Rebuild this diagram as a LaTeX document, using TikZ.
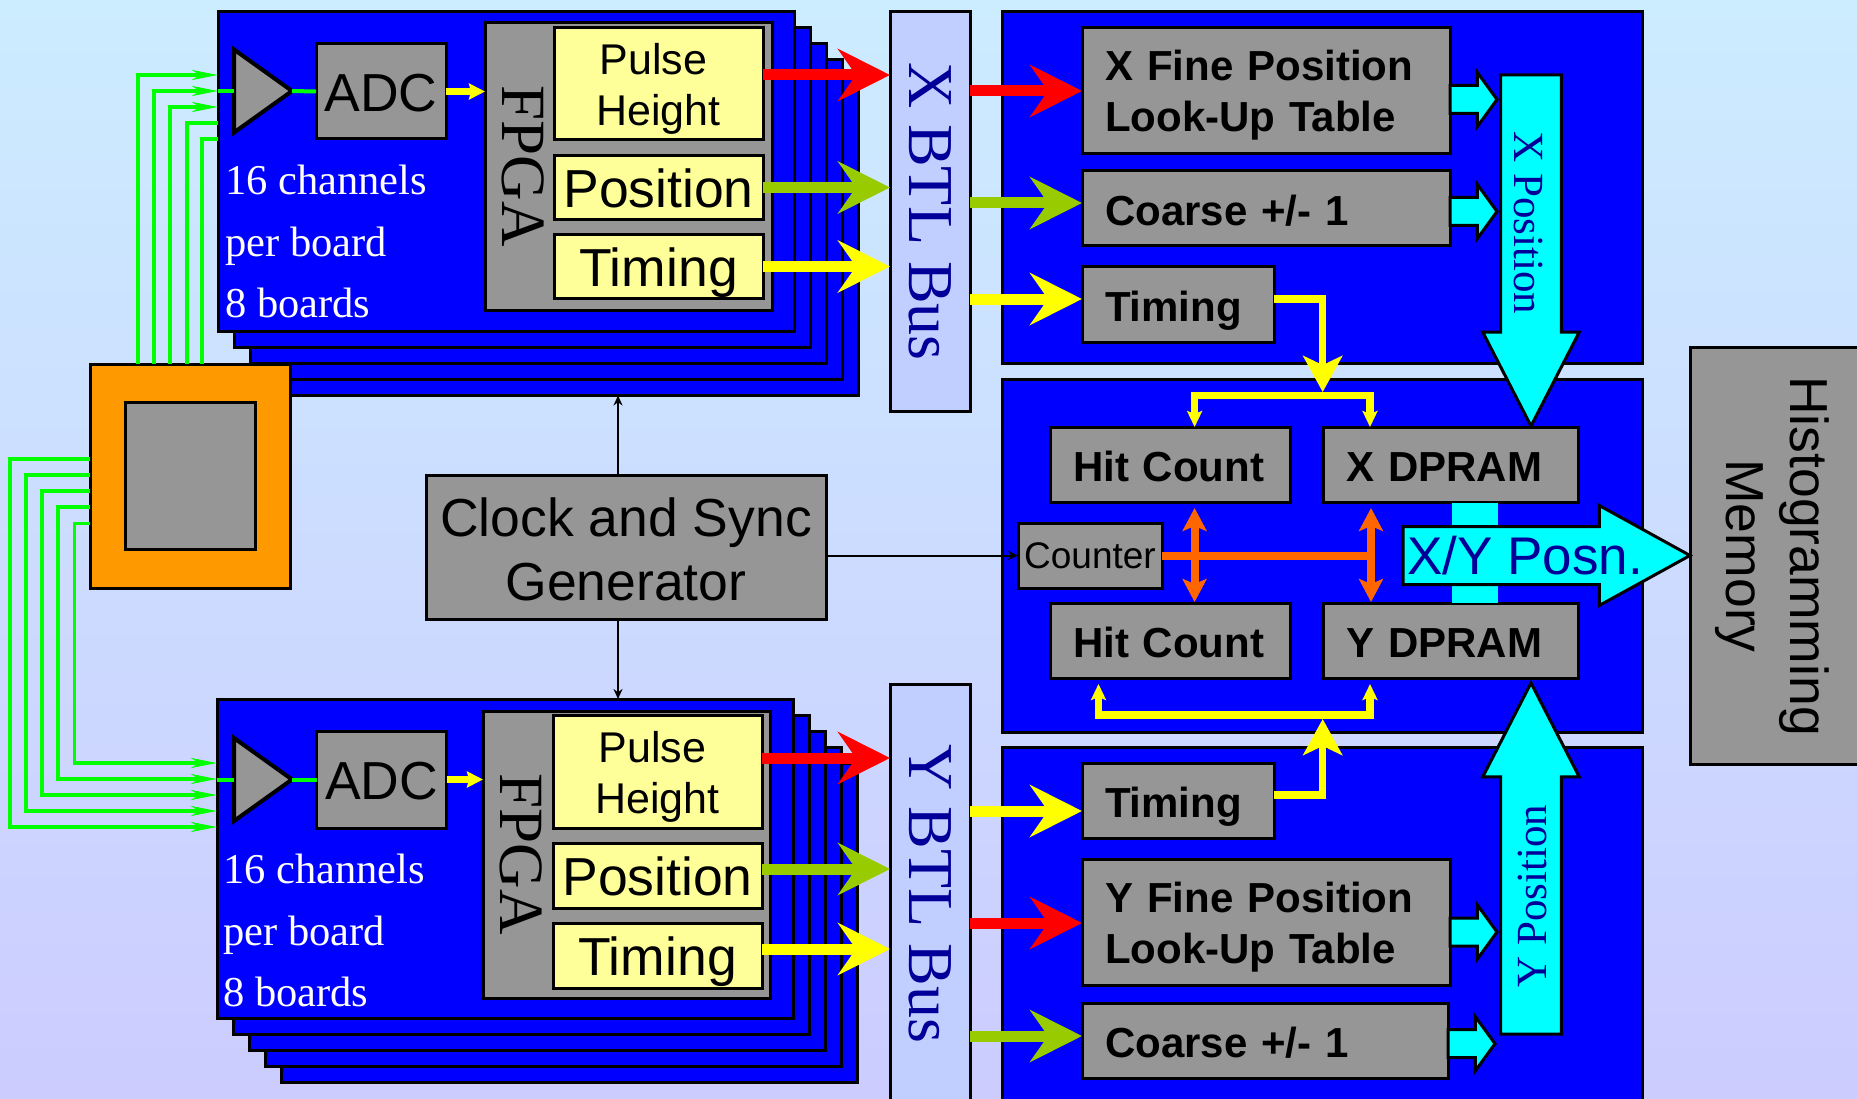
\documentclass[tikz,border=0pt]{standalone}
\usepackage{fontspec}
\setmainfont{Liberation Serif}
\setsansfont{Liberation Sans}
\usetikzlibrary{shapes.geometric, shapes.arrows, arrows.meta, positioning}
\definecolor{bgtop}{RGB}{204,236,255}
\definecolor{bgbottom}{RGB}{204,204,255}
\definecolor{busblue}{RGB}{192,207,255}
\definecolor{darkblue}{RGB}{0,0,153}
\definecolor{boxgray}{RGB}{150,150,150}
\definecolor{paleyellow}{RGB}{255,255,153}
\definecolor{huborange}{RGB}{255,153,0}
\definecolor{posgreen}{RGB}{153,204,0}
\definecolor{cntorange}{RGB}{255,102,0}
\definecolor{fangreen}{RGB}{0,255,0}
\definecolor{timeyellow}{RGB}{255,255,0}
\definecolor{poscyan}{RGB}{0,255,255}

\begin{document}
\begin{tikzpicture}[
    x=1pt, y=-1pt,
    node distance=16pt and 24pt,
    basebox/.style={draw, line width=3pt, anchor=north west, inner sep=0pt, outer sep=0pt},
    board/.style={basebox, fill=blue, minimum width=576pt, minimum height=319.5pt},
    panel/.style={basebox, fill=blue, minimum width=640pt},
    bus/.style={basebox, fill=busblue, minimum width=80pt, text=darkblue,
                font=\fontsize{64}{70}\selectfont\rmfamily},
    graybox/.style={basebox, fill=boxgray, font=\fontsize{53.5}{64}\selectfont\sffamily, align=center},
    fpgabox/.style={basebox, fill=boxgray, minimum width=287pt, minimum height=287pt},
    outbox/.style={basebox, fill=paleyellow, minimum width=209pt, minimum height=64pt,
                   font=\fontsize{53.5}{60}\selectfont\sffamily},
    pulsebox/.style={outbox, align=center, font=\fontsize{43}{51}\selectfont\sffamily},
    lutbox/.style={basebox, fill=boxgray, inner xsep=23pt, minimum height=75pt, align=left,
                   font=\fontsize{42}{51}\selectfont\sffamily\bfseries},
    oneline/.style={text height=#1, text depth=0pt},
    amp/.style={draw, line width=4pt, fill=boxgray, isosceles triangle, isosceles triangle stretches=true,
                minimum width=83pt, minimum height=58pt, inner sep=0pt, outer sep=0pt, anchor=lower side},
    seriflabel/.style={inner sep=0pt, font=\fontsize{63}{70}\selectfont\rmfamily},
    poslabel/.style={inner sep=0pt, text=darkblue, font=\fontsize{43}{50}\selectfont\rmfamily},
    infolabel/.style={inner sep=0pt, anchor=north west, text=white, align=left,
                      font=\fontsize{42.5}{61.5}\selectfont\rmfamily},
    posn/.style={draw, line width=3pt, fill=poscyan, single arrow, inner sep=0pt, outer sep=0pt, anchor=tip},
    bigposn/.style={posn, inner ysep=28.8pt, minimum height=351pt,
                    single arrow head extend=18pt, single arrow tip angle=54.4},
    smallposn/.style={posn, anchor=tail, inner ysep=12.5pt, minimum height=47pt,
                      single arrow head extend=13pt, single arrow tip angle=108},
    fat/.style={line width=11pt, -{Stealth[length=52pt, width=52pt, inset=18pt]}},
    fan/.style={color=fangreen, line width=3.5pt},
    fantip/.style={fan, -{Stealth[length=26pt, width=10pt, inset=8pt]}},
    ampwire/.style={color=fangreen, line width=4pt},
    adcout/.style={color=timeyellow, line width=7pt, -{Stealth[length=16pt, width=16pt, inset=2pt]}},
    sync/.style={line width=2pt, -{Stealth[length=10pt, width=9pt]}},
    timingin/.style={color=timeyellow, line width=7.5pt, -{Stealth[length=36pt, width=39pt, inset=9pt]}},
    timingout/.style={color=timeyellow, line width=7.5pt,
                      {Stealth[length=16pt, width=15pt, inset=3pt]}-{Stealth[length=16pt, width=15pt, inset=3pt]}},
    cntbar/.style={color=cntorange, line width=8pt},
    cntarrow/.style={color=cntorange, line width=8pt,
                     {Stealth[length=23pt, width=24pt, inset=5pt]}-{Stealth[length=23pt, width=24pt, inset=5pt]}},
]
\useasboundingbox (0,0) rectangle (1857,1099);
\shade[top color=bgtop, bottom color=bgbottom] (0,0) rectangle (1857,1099);

% right hand panels
\node[panel, minimum height=351pt] (xpanel) at (1002,12) {};
\node[panel, minimum height=353pt] (midpanel) at (1002,379.5) {};
\node[panel, minimum height=360pt] (ypanel) at (1002,747) {};
\node[basebox, fill=boxgray, minimum width=180pt, minimum height=417pt] (hist) at (1690,347) {};
\node[inner sep=0pt, rotate=-90, align=center, font=\fontsize{53.5}{64}\selectfont\sffamily] (histlabel) at (1772,556)
    {Histogramming\\Memory};

% X boards
\foreach \i in {4,...,0}
    \node[board] (xboard\i) at (218+16*\i, 12+16*\i) {};
\node[fpgabox] (xfpga) at (485,23) {};
\node[pulsebox, minimum height=112pt, text height=84pt, text depth=0pt] (xpulse) at (554,28) {\kern-10pt Pulse\\Height};
\node[outbox, oneline=40pt, below=15.5pt of xpulse] (xpos) {Position};
\node[outbox, oneline=40pt, below=15pt of xpos] (xtime) {Timing};
\node[seriflabel, rotate=-90] (xfpgalabel) at (523,166) {FPGA};
\node[graybox, oneline=40pt, minimum width=130pt, minimum height=95pt] (xadc) at (316,44) {ADC};
\node[amp] (xamp) at (234,91) {};
\node[infolabel] (xinfo) at (225,165) {16 channels\\per board\\8 boards};

% Y boards
\foreach \i in {4,...,0}
    \node[board] (yboard\i) at (217+16.2*\i, 699+16*\i) {};
\node[fpgabox] (yfpga) at (483,711) {};
\node[pulsebox, minimum height=113pt, text height=84.5pt, text depth=0pt] (ypulse) at (553,715) {\kern-10pt Pulse\\Height};
\node[outbox, oneline=40pt, minimum height=65pt, below=15pt of ypulse] (ypos) {Position};
\node[outbox, oneline=40pt, minimum height=65pt, below=15pt of ypos] (ytime) {Timing};
\node[seriflabel, rotate=-90] (yfpgalabel) at (521,854) {FPGA};
\node[graybox, oneline=40pt, minimum width=130pt, minimum height=97pt] (yadc) at (316.5,731) {ADC};
\node[amp] (yamp) at (234,779.5) {};
\node[infolabel] (yinfo) at (223,854) {16 channels\\per board\\8 boards};

% hub and clock
\node[basebox, fill=huborange, minimum width=200pt, minimum height=224pt] (hub) at (90,364) {};
\node[basebox, anchor=center, fill=boxgray, minimum width=130pt, minimum height=147pt] (hubcore) at (hub.center) {};
\node[graybox, text height=105pt, text depth=0pt, minimum width=400pt, minimum height=144pt] (clock) at (426,475.5) {Clock and Sync\\Generator};

% busses
\node[bus, minimum height=399pt] (xbus) at (890,12) {\rotatebox{-90}{X BTL Bus}};
\node[bus, minimum height=420pt] (ybus) at (890,684) {\rotatebox{-90}{Y BTL Bus}};

% X lookup
\node[lutbox, text height=30pt, text depth=51pt, text width=322pt, minimum height=126pt] (xfine) at (1082,28) {X Fine Position\\Look-Up Table};
\node[lutbox, oneline=34pt, text width=322pt, below=17pt of xfine] (xcoarse) {Coarse +/- 1};
\node[lutbox, oneline=34pt, text width=146pt, below=21pt of xcoarse.south west, anchor=north west] (xtiming) {Timing};

% Y lookup
\node[lutbox, oneline=34pt, text width=146pt] (ytiming) at (1082,763) {Timing};
\node[lutbox, text height=30pt, text depth=50pt, text width=322pt, minimum height=126pt, below=21pt of ytiming.south west, anchor=north west] (yfine) {Y Fine Position\\Look-Up Table};
\node[lutbox, oneline=34pt, text width=320pt, below=18pt of yfine.south west, anchor=north west] (ycoarse) {Coarse +/- 1};

% middle panel
\node[lutbox, oneline=34pt, text width=194pt] (xhit) at (1050,427) {Hit Count};
\node[lutbox, oneline=34pt, text width=209pt, right=33pt of xhit] (xram) {X DPRAM};
\node[lutbox, oneline=34pt, text width=194pt, below=101pt of xhit] (yhit) {Hit Count};
\node[lutbox, oneline=34pt, text width=209pt, right=33pt of yhit] (yram) {Y DPRAM};
\node[graybox, minimum width=144pt, minimum height=65pt, font=\fontsize{37}{44}\selectfont\sffamily] (counter) at (1018,523) {Counter};
\node[anchor=north west, fill=poscyan, minimum width=46pt, minimum height=100pt, inner sep=0pt] (posnlink) at (1452,503) {};

% X/Y position arrows
\node[bigposn, rotate=-90] (xposn) at (1531,426) {};
\node[poslabel, rotate=-90] (xposnlabel) at (1529,223) {X Position};
\node[bigposn, rotate=90] (yposn) at (1531,683) {};
\node[poslabel, rotate=90] (yposnlabel) at (1532,896) {Y Position};
\node[posn, inner ysep=27.5pt, minimum height=287pt,
      single arrow head extend=21pt, single arrow tip angle=57.7] (xyposn) at (1690,555.5) {};
\node[inner sep=0pt, anchor=base, text=darkblue, font=\fontsize{53}{60}\selectfont\sffamily] (xyposnlabel) at (1525,574) {X/Y Posn.};
\node[smallposn] (xfineout) at (xfine.east |- 0,99.5) {};
\node[smallposn] (xcoarseout) at (xcoarse.east |- 0,211.5) {};
\node[smallposn] (yfineout) at (yfine.east |- 0,932) {};
\node[smallposn] (ycoarseout) at (ycoarse.east |- 0,1043.7) {};

% input fans
\foreach \x/\y in {138/75, 154/91, 170/107}
    \draw[fantip] (hub.north -| \x,0) |- (xboard0.west |- 0,\y);
\foreach \x/\y in {187/123, 202/139}
    \draw[fan] (hub.north -| \x,0) |- (xboard0.west |- 0,\y);
\foreach \x/\y/\z in {10/459/827, 26/475/811, 42/491/795, 58/507/779, 74.6/523.6/763}
    \draw[fantip] (hub.west |- 0,\y) -- (\x,\y) |- (yboard0.west |- 0,\z);

% board wiring
\draw[ampwire] (xboard0.west |- xamp) -- (xamp.lower side);
\draw[ampwire] (xamp.apex) -- (xadc.west);
\draw[adcout] (xadc.east) -- (xadc.east -| xfpga.west);
\draw[ampwire] (yboard0.west |- yamp) -- (yamp.lower side);
\draw[ampwire] (yamp.apex) -- (yadc.west);
\draw[adcout] (yadc.east) -- (yadc.east -| yfpga.west);

% board to bus to lookup
\draw[fat, color=red] (xpulse.east |- 0,75) -- (xbus.west |- 0,75);
\draw[fat, color=posgreen] (xpos.east) -- (xpos.east -| xbus.west);
\draw[fat, color=timeyellow] (xtime.east) -- (xtime.east -| xbus.west);
\draw[fat, color=red] (ypulse.east |- 0,758) -- (ybus.west |- 0,758);
\draw[fat, color=posgreen] (ypos.east |- 0,869) -- (ybus.west |- 0,869);
\draw[fat, color=timeyellow] (ytime.east |- 0,949) -- (ybus.west |- 0,949);
\draw[fat, color=red] (xbus.east |- xfine.west) -- (xfine.west);
\draw[fat, color=posgreen] (xbus.east |- 0,203) -- (xcoarse.west |- 0,203);
\draw[fat, color=timeyellow] (xbus.east |- 0,299) -- (xtiming.west |- 0,299);
\draw[fat, color=timeyellow] (ybus.east |- 0,811) -- (ytiming.west |- 0,811);
\draw[fat, color=red] (ybus.east |- 0,923) -- (yfine.west |- 0,923);
\draw[fat, color=posgreen] (ybus.east |- 0,1036) -- (ycoarse.west |- 0,1036);

% timing tree
\draw[timingin] (xtiming.east |- 0,299) -| (1322.7,392);
\draw[timingout] (xhit.north -| 1194.6,0) -- (1194.6,395.5) -- (1370,395.5) -- (xram.north -| 1370,0);
\draw[timingin] (ytiming.east |- 0,795) -| (1322.7,719);
\draw[timingout] (1098.5,684) -- (1098.5,715) -- (1370,715) -- (1370,684);

% counter
\coordinate (hitup) at (1194.6,508);
\coordinate (hitdown) at (1194.6,602);
\coordinate (ramup) at (1371,508);
\coordinate (ramdown) at (1371,602);
\draw[cntbar] (counter.east) -- (counter.east -| ramup);
\draw[cntarrow] (hitup) -- (hitdown);
\draw[cntarrow] (ramup) -- (ramdown);

% clock lines
\draw[sync] (clock.north -| 618,0) -- (xboard4.south -| 618,0);
\draw[sync] (clock.south -| 618,0) -- (yboard0.north -| 618,0);
\draw[sync] (clock.east |- counter.west) -- (counter.west);
\end{tikzpicture}
\end{document}
